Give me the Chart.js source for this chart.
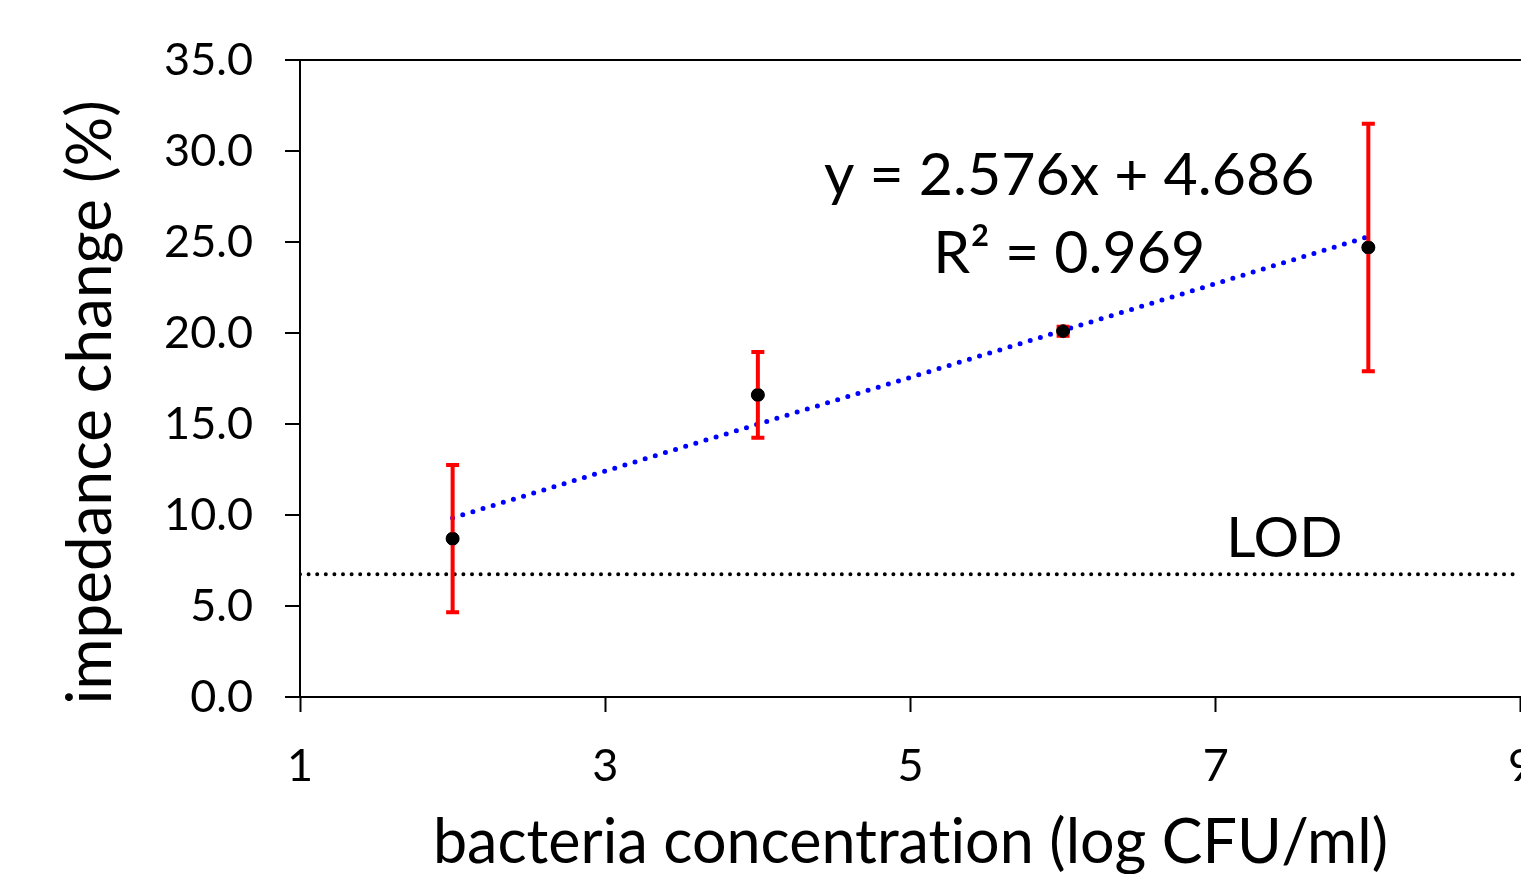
<!DOCTYPE html>
<html>
<head>
<meta charset="utf-8">
<script src="https://cdn.jsdelivr.net/npm/chart.js@4/dist/chart.umd.min.js"></script>
<style>
  html, body { margin: 0; padding: 0; background: #fff; overflow: hidden; }
  #wrap { width: 1521px; height: 874px; overflow: hidden; }
</style>
</head>
<body>
<div id="wrap"><canvas id="c" width="1561" height="874"></canvas></div>
<script>
// ---- data ----
const concentrations = [2, 4, 6, 8];           // log CFU/ml
const impedanceChange = [8.7, 16.6, 20.1, 24.7]; // %
const errorValues = [4.05, 2.35, 0.25, 6.8];    // +/- error
const trendX = [2, 8];
const trendY = [9.84, 25.29];
const lodX = [1, 9];
const lodY = [6.75, 6.75];
const xTicks = [1, 3, 5, 7, 9];
const yTicks = [0, 5, 10, 15, 20, 25, 30, 35];
const equationText = 'y = 2.576x + 4.686';
const r2Text = 'R\u00B2 = 0.969';
const lodText = 'LOD';
const xTitle = 'bacteria concentration (log CFU/ml)';
const yTitle = 'impedance change (%)\u00A0\u00A0\u00A0';

const FONT = 'Lato';

const noLigatures = {
  id: 'noLigatures',
  beforeInit(chart) {
    const ctx = chart.ctx;
    try { ctx.textRendering = 'optimizeSpeed'; } catch (e) {}
    try { ctx.letterSpacing = '0.01px'; } catch (e) {}
  },
  beforeDraw(chart) {
    const ctx = chart.ctx;
    try { ctx.textRendering = 'optimizeSpeed'; } catch (e) {}
    try { ctx.letterSpacing = '0.01px'; } catch (e) {}
  }
};

const errorBarPlugin = {
  id: 'errorBars',
  afterDatasetsDraw(chart) {
    const ctx = chart.ctx;
    const xs = chart.scales.x, ys = chart.scales.y;
    ctx.save();
    ctx.strokeStyle = '#ff0000';
    ctx.lineWidth = 4;
    concentrations.forEach((cx, i) => {
      const px = xs.getPixelForValue(cx);
      const top = ys.getPixelForValue(impedanceChange[i] + errorValues[i]);
      const bot = ys.getPixelForValue(impedanceChange[i] - errorValues[i]);
      ctx.beginPath();
      ctx.moveTo(px, top); ctx.lineTo(px, bot);
      ctx.moveTo(px - 6.5, top); ctx.lineTo(px + 6.5, top);
      ctx.moveTo(px - 6.5, bot); ctx.lineTo(px + 6.5, bot);
      ctx.stroke();
    });
    ctx.fillStyle = '#000';
    concentrations.forEach((cx, i) => {
      const px = xs.getPixelForValue(cx);
      const py = ys.getPixelForValue(impedanceChange[i]);
      ctx.beginPath();
      ctx.arc(px, py, 6.5, 0, Math.PI * 2);
      ctx.fill();
    });
    ctx.fillStyle = '#000';
    ctx.textAlign = 'center';
    ctx.textBaseline = 'alphabetic';
    ctx.font = '59px ' + FONT;
    ctx.fillText(equationText, xs.getPixelForValue(6.04), ys.getPixelForValue(27.6));
    ctx.fillText(r2Text, xs.getPixelForValue(6.04), ys.getPixelForValue(23.3));
    ctx.font = '57px ' + FONT;
    ctx.fillText(lodText, xs.getPixelForValue(7.45), ys.getPixelForValue(7.7));
    ctx.restore();
  }
};

new Chart(document.getElementById('c'), {
  type: 'scatter',
  data: {
    datasets: [
      {
        label: 'LOD',
        data: lodX.map((x, i) => ({ x, y: lodY[i] })),
        showLine: true,
        borderColor: '#000',
        borderWidth: 4,
        borderDash: [0, 8.6],
        borderCapStyle: 'round',
        pointRadius: 0,
        fill: false,
        order: 3
      },
      {
        label: 'trend',
        data: trendX.map((x, i) => ({ x, y: trendY[i] })),
        showLine: true,
        borderColor: '#0000ff',
        borderWidth: 5,
        borderDash: [0, 10.6],
        borderCapStyle: 'round',
        pointRadius: 0,
        fill: false,
        order: 2
      },
      {
        label: 'impedance',
        data: concentrations.map((x, i) => ({ x, y: impedanceChange[i] })),
        backgroundColor: '#000',
        borderColor: '#000',
        pointRadius: 6.5,
        order: 1
      }
    ]
  },
  options: {
    responsive: false,
    animation: false,
    events: [],
    layout: { padding: { top: 60, right: 19, left: 0, bottom: 0 } },
    plugins: { legend: { display: false }, tooltip: { enabled: false } },
    scales: {
      x: {
        type: 'linear',
        min: 1, max: 9,
        afterBuildTicks: s => { s.ticks = xTicks.map(v => ({ value: v })); },
        afterFit: s => { s.height = 177; },
        border: { color: '#000', width: 2 },
        grid: { drawOnChartArea: false, drawTicks: true, tickLength: 15, tickColor: '#000', tickWidth: 2 },
        ticks: { color: '#000', font: { family: FONT, size: 45 }, padding: 27, maxRotation: 0, autoSkip: false,
                 callback: v => String(v) },
        title: { display: true, text: xTitle, color: '#000', font: { family: FONT, size: 61, lineHeight: 1.0 }, padding: { top: 0, bottom: 0 } }
      },
      y: {
        type: 'linear',
        min: 0, max: 35,
        afterBuildTicks: s => { s.ticks = yTicks.map(v => ({ value: v })); },
        afterFit: s => { s.width = 300; },
        border: { color: '#000', width: 2 },
        grid: {
          drawOnChartArea: true,
          color: c => (c.tick && c.tick.value === 35) ? '#000' : 'rgba(0,0,0,0)',
          lineWidth: 2,
          drawTicks: true, tickLength: 15, tickColor: '#000', tickWidth: 2
        },
        ticks: { color: '#000', font: { family: FONT, size: 45 }, padding: 32, autoSkip: false,
                 callback: v => Number(v).toFixed(1) },
        title: { display: true, text: yTitle, color: '#000', font: { family: FONT, size: 62, lineHeight: 1.0 }, padding: { top: 60, bottom: 0 } }
      }
    }
  },
  plugins: [noLigatures, errorBarPlugin]
});
</script>
</body>
</html>
